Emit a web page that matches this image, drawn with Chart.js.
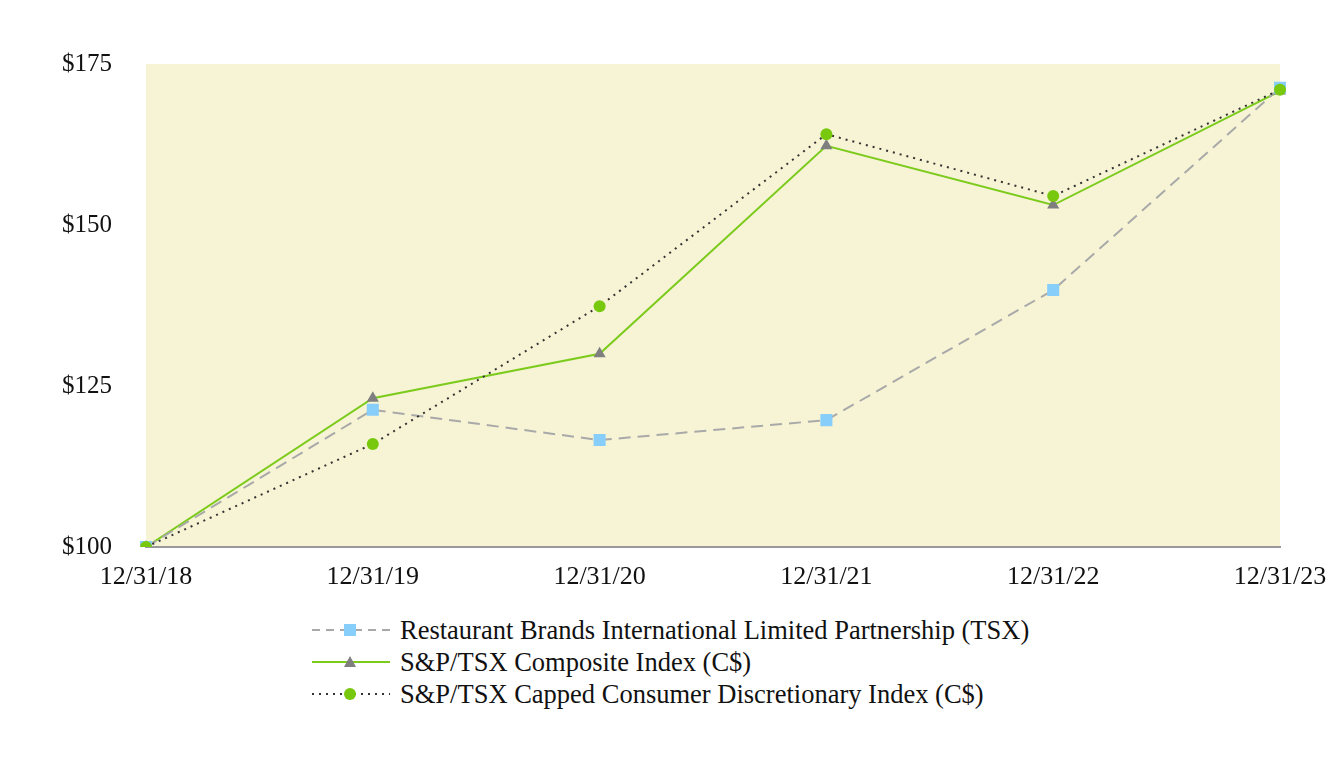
<!DOCTYPE html>
<html><head><meta charset="utf-8">
<script src="https://cdn.jsdelivr.net/npm/chart.js@4/dist/chart.umd.min.js"></script>
<style>
html,body{margin:0;padding:0;background:#fff;width:1344px;height:768px;overflow:hidden;}
#wrap{position:relative;width:1344px;height:768px;}
#c{position:absolute;left:0;top:0;}
#legend{position:absolute;left:310px;top:614px;font-family:"Liberation Serif","Times New Roman",serif;font-size:26.5px;color:#111;}
.row{height:32px;display:flex;align-items:center;}
.row svg{margin-right:8px;}
</style></head>
<body><div id="wrap"><canvas id="c" width="1344" height="600"></canvas><div id="legend"></div></div>
<script>
const categories = ["12/31/18","12/31/19","12/31/20","12/31/21","12/31/22","12/31/23"];
const rbiValues = [100, 121.3, 116.6, 119.7, 139.9, 171.3];
const compositeValues = [100, 123.1, 130.0, 162.3, 153.1, 170.8];
const consumerValues = [100, 116.0, 137.4, 164.1, 154.5, 171.0];
const seriesNames = [
  "Restaurant Brands International Limited Partnership (TSX)",
  "S&P/TSX Composite Index (C$)",
  "S&P/TSX Capped Consumer Discretionary Index (C$)"
];
const yTicks = [100, 125, 150, 175];

const bgPlugin = {
  id:'bg',
  beforeDraw(chart){
    const {ctx, chartArea:a} = chart;
    ctx.save();
    ctx.fillStyle = '#F6F4D4';
    ctx.fillRect(a.left, a.top, a.right-a.left, a.bottom-a.top);
    ctx.restore();
  }
};

new Chart(document.getElementById('c'), {
  type:'line',
  data:{
    labels: categories,
    datasets:[
      {label:seriesNames[0], data:rbiValues, borderColor:'#A9A9A9', borderWidth:2, borderDash:[12,7],
       pointStyle:'rect', pointRadius:8.5, pointBackgroundColor:'#87CEFA', pointBorderWidth:0, order:1, tension:0},
      {label:seriesNames[1], data:compositeValues, borderColor:'#7CCB1C', borderWidth:2,
       pointStyle:'triangle', pointRadius:7, pointBackgroundColor:'#7F7F7F', pointBorderWidth:0, order:2, tension:0},
      {label:seriesNames[2], data:consumerValues, borderColor:'#333333', borderWidth:2, borderDash:[2,5],
       pointStyle:'circle', pointRadius:6, pointBackgroundColor:'#78C80E', pointBorderWidth:0, order:0, tension:0}
    ]
  },
  options:{
    responsive:false, animation:false,
    layout:{padding:{top:64,right:64,left:0,bottom:0}},
    plugins:{legend:{display:false}, tooltip:{enabled:false}},
    scales:{
      x:{
        offset:false,
        grid:{display:false, drawTicks:false},
        border:{display:true, color:'#999999', width:2},
        ticks:{color:'#111', font:{family:'"Liberation Serif"', size:26}, padding:15, maxRotation:0, autoSkip:false},
        afterFit(s){ s.height = 53; }
      },
      y:{
        min:100, max:175,
        afterBuildTicks(s){ s.ticks = yTicks.map(v=>({value:v})); },
        grid:{display:false, drawTicks:false},
        border:{display:false},
        ticks:{color:'#111', font:{family:'"Liberation Serif"', size:25}, padding:34, callback:v=>'$'+v},
        afterFit(s){ s.width = 146; }
      }
    }
  },
  plugins:[bgPlugin]
});

// HTML legend
const legendDefs = [
  {dash:'8 6', color:'#A9A9A9', marker:'<rect x="34" y="10" width="12" height="12" fill="#87CEFA"/>'},
  {dash:'', color:'#7CCB1C', marker:'<polygon points="40,10 46,21 34,21" fill="#7F7F7F"/>'},
  {dash:'2 5', color:'#333333', marker:'<circle cx="40" cy="16" r="6" fill="#78C80E"/>'}
];
const lg = document.getElementById('legend');
seriesNames.forEach((n,i)=>{
  const d = legendDefs[i];
  const row = document.createElement('div'); row.className='row';
  row.innerHTML = '<svg width="82" height="32"><line x1="2" y1="16" x2="80" y2="16" stroke="'+d.color+'" stroke-width="2" '+(d.dash?'stroke-dasharray="'+d.dash+'"':'')+'/>'+d.marker+'</svg><span></span>';
  row.querySelector('span').textContent = n;
  lg.appendChild(row);
});
</script></body></html>
